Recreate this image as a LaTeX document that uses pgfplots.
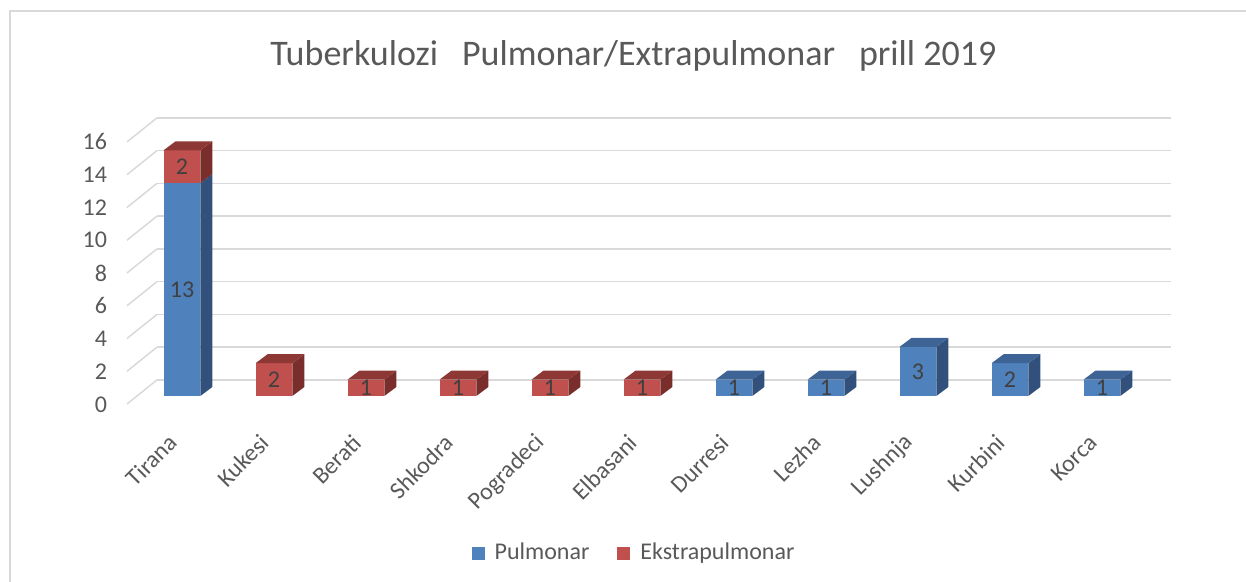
\documentclass[border=0pt]{standalone}
\usepackage{fontspec}
\setmainfont{Carlito}
\usepackage{pgfplots}
\pgfplotsset{compat=1.18}
\definecolor{pblue}{HTML}{4F81BD}
\definecolor{pblueT}{HTML}{3E6496}
\definecolor{pblueS}{HTML}{31507C}
\definecolor{ered}{HTML}{C0504D}
\definecolor{eredT}{HTML}{8E3836}
\definecolor{eredS}{HTML}{792E2C}
\definecolor{gridc}{HTML}{D9D9D9}
\definecolor{txt}{HTML}{595959}
\definecolor{lab}{HTML}{404040}
\newcommand{\sfs}{\fontsize{12}{14}\selectfont}
\begin{document}
\begin{tikzpicture}
\path[use as bounding box] (-63.5pt,-88.1pt) rectangle (559.5pt,202.9pt);
\begin{axis}[
  at={(0,0)}, anchor=south west,
  scale only axis, width=522pt, height=144.96pt,
  xmin=-0.598, xmax=10.75, ymin=-0.6, ymax=17.1,
  clip=false, axis line style={draw=none}, major tick length=0pt,
  xtick={0,1,2,3,4,5,6,7,8,9,10},
  xticklabels={Tirana,Kukesi,Berati,Shkodra,Pogradeci,Elbasani,Durresi,Lezha,Lushnja,Kurbini,Korca},
  xticklabel style={xshift=-2pt, yshift=-14.1pt, rotate=45, anchor=east, font=\sfs, text=txt},
  ytick={-0.52,1.49,3.49,5.50,7.50,9.51,11.52,13.52,15.53},
  yticklabels={0,2,4,6,8,10,12,14,16},
  yticklabel style={xshift=-6.5pt, font=\sfs, text=txt},
  legend style={at={(0.4866,-0.508)}, anchor=center, draw=none, legend columns=2,
    font=\sfs, text=txt, /tikz/every even column/.append style={column sep=12pt}},
  face/.style={draw=none, forget plot, mark=none},
  gl/.style={draw=gridc, line width=0.75pt, forget plot, mark=none},
]
% back wall gridlines
\addplot[gl] coordinates {(-0.272,0.98) (10.75,0.98)};
\addplot[gl] coordinates {(-0.272,2.98) (10.75,2.98)};
\addplot[gl] coordinates {(-0.272,4.98) (10.75,4.98)};
\addplot[gl] coordinates {(-0.272,6.98) (10.75,6.98)};
\addplot[gl] coordinates {(-0.272,8.98) (10.75,8.98)};
\addplot[gl] coordinates {(-0.272,10.98) (10.75,10.98)};
\addplot[gl] coordinates {(-0.272,12.98) (10.75,12.98)};
\addplot[gl] coordinates {(-0.272,14.98) (10.75,14.98)};
\addplot[gl] coordinates {(-0.272,16.98) (10.75,16.98)};
% side wall lines
\addplot[gl] coordinates {(-0.598,-0.49) (-0.272,0.98)};
\addplot[gl] coordinates {(-0.598,1.51) (-0.272,2.98)};
\addplot[gl] coordinates {(-0.598,3.51) (-0.272,4.98)};
\addplot[gl] coordinates {(-0.598,5.51) (-0.272,6.98)};
\addplot[gl] coordinates {(-0.598,7.51) (-0.272,8.98)};
\addplot[gl] coordinates {(-0.598,9.51) (-0.272,10.98)};
\addplot[gl] coordinates {(-0.598,11.51) (-0.272,12.98)};
\addplot[gl] coordinates {(-0.598,13.51) (-0.272,14.98)};
\addplot[gl] coordinates {(-0.598,15.51) (-0.272,16.98)};
% Tirana: Pulmonar 13, Ekstrapulmonar 2
\addplot[face, fill=pblue] coordinates {(-0.2,0) (0.2,0) (0.2,13) (-0.2,13)};
\addplot[face, fill=pblueS] coordinates {(0.2,0) (0.33,0.55) (0.33,13.55) (0.2,13)};
\addplot[face, fill=ered] coordinates {(-0.2,13) (0.2,13) (0.2,15) (-0.2,15)};
\addplot[face, fill=eredS] coordinates {(0.2,13) (0.33,13.55) (0.33,15.55) (0.2,15)};
\addplot[face, fill=eredT] coordinates {(-0.2,15) (0.2,15) (0.33,15.55) (-0.07,15.55)};
% Kukesi: Ekstrapulmonar 2
\addplot[face, fill=ered] coordinates {(0.8,0) (1.2,0) (1.2,2) (0.8,2)};
\addplot[face, fill=eredS] coordinates {(1.2,0) (1.33,0.55) (1.33,2.55) (1.2,2)};
\addplot[face, fill=eredT] coordinates {(0.8,2) (1.2,2) (1.33,2.55) (0.93,2.55)};
% Berati: Ekstrapulmonar 1
\addplot[face, fill=ered] coordinates {(1.8,0) (2.2,0) (2.2,1) (1.8,1)};
\addplot[face, fill=eredS] coordinates {(2.2,0) (2.33,0.55) (2.33,1.55) (2.2,1)};
\addplot[face, fill=eredT] coordinates {(1.8,1) (2.2,1) (2.33,1.55) (1.93,1.55)};
% Shkodra: Ekstrapulmonar 1
\addplot[face, fill=ered] coordinates {(2.8,0) (3.2,0) (3.2,1) (2.8,1)};
\addplot[face, fill=eredS] coordinates {(3.2,0) (3.33,0.55) (3.33,1.55) (3.2,1)};
\addplot[face, fill=eredT] coordinates {(2.8,1) (3.2,1) (3.33,1.55) (2.93,1.55)};
% Pogradeci: Ekstrapulmonar 1
\addplot[face, fill=ered] coordinates {(3.8,0) (4.2,0) (4.2,1) (3.8,1)};
\addplot[face, fill=eredS] coordinates {(4.2,0) (4.33,0.55) (4.33,1.55) (4.2,1)};
\addplot[face, fill=eredT] coordinates {(3.8,1) (4.2,1) (4.33,1.55) (3.93,1.55)};
% Elbasani: Ekstrapulmonar 1
\addplot[face, fill=ered] coordinates {(4.8,0) (5.2,0) (5.2,1) (4.8,1)};
\addplot[face, fill=eredS] coordinates {(5.2,0) (5.33,0.55) (5.33,1.55) (5.2,1)};
\addplot[face, fill=eredT] coordinates {(4.8,1) (5.2,1) (5.33,1.55) (4.93,1.55)};
% Durresi: Pulmonar 1
\addplot[face, fill=pblue] coordinates {(5.8,0) (6.2,0) (6.2,1) (5.8,1)};
\addplot[face, fill=pblueS] coordinates {(6.2,0) (6.33,0.55) (6.33,1.55) (6.2,1)};
\addplot[face, fill=pblueT] coordinates {(5.8,1) (6.2,1) (6.33,1.55) (5.93,1.55)};
% Lezha: Pulmonar 1
\addplot[face, fill=pblue] coordinates {(6.8,0) (7.2,0) (7.2,1) (6.8,1)};
\addplot[face, fill=pblueS] coordinates {(7.2,0) (7.33,0.55) (7.33,1.55) (7.2,1)};
\addplot[face, fill=pblueT] coordinates {(6.8,1) (7.2,1) (7.33,1.55) (6.93,1.55)};
% Lushnja: Pulmonar 3
\addplot[face, fill=pblue] coordinates {(7.8,0) (8.2,0) (8.2,3) (7.8,3)};
\addplot[face, fill=pblueS] coordinates {(8.2,0) (8.33,0.55) (8.33,3.55) (8.2,3)};
\addplot[face, fill=pblueT] coordinates {(7.8,3) (8.2,3) (8.33,3.55) (7.93,3.55)};
% Kurbini: Pulmonar 2
\addplot[face, fill=pblue] coordinates {(8.8,0) (9.2,0) (9.2,2) (8.8,2)};
\addplot[face, fill=pblueS] coordinates {(9.2,0) (9.33,0.55) (9.33,2.55) (9.2,2)};
\addplot[face, fill=pblueT] coordinates {(8.8,2) (9.2,2) (9.33,2.55) (8.93,2.55)};
% Korca: Pulmonar 1
\addplot[face, fill=pblue] coordinates {(9.8,0) (10.2,0) (10.2,1) (9.8,1)};
\addplot[face, fill=pblueS] coordinates {(10.2,0) (10.33,0.55) (10.33,1.55) (10.2,1)};
\addplot[face, fill=pblueT] coordinates {(9.8,1) (10.2,1) (10.33,1.55) (9.93,1.55)};
% data labels
\addplot[only marks, mark=o, mark size=0pt, mark options={draw=none}, forget plot,
  nodes near coords, point meta=explicit symbolic,
  nodes near coords style={anchor=center, font=\fontsize{12}{14}\selectfont, text=lab}]
  coordinates {(0,6.5)[13] (0,14)[2] (1,1)[2] (2,0.5)[1] (3,0.5)[1] (4,0.5)[1] (5,0.5)[1]
               (6,0.5)[1] (7,0.5)[1] (8,1.5)[3] (9,1)[2] (10,0.5)[1]};
% legend
\addlegendimage{legend image code/.code={\path[draw=none,fill=none] (0pt,-3.25pt) rectangle (9.5pt,3.25pt); \fill[pblue,draw=none] (0pt,-3.25pt) rectangle (6.5pt,3.25pt);}}
\addlegendentry{Pulmonar}
\addlegendimage{legend image code/.code={\path[draw=none,fill=none] (0pt,-3.25pt) rectangle (9.5pt,3.25pt); \fill[ered,draw=none] (0pt,-3.25pt) rectangle (6.5pt,3.25pt);}}
\addlegendentry{Ekstrapulmonar}
\end{axis}
\draw[gridc, line width=1.2pt] (-58.5pt,-88.1pt) -- (-58.5pt,197.4pt) -- (559.5pt,197.4pt);
\node[anchor=base, font=\fontsize{18}{21}\selectfont, text=txt, inner sep=0pt] at (253.25pt,169.9pt) {Tuberkulozi\hspace{12pt}Pulmonar/Extrapulmonar\hspace{12pt}prill 2019};
\end{tikzpicture}
\end{document}
